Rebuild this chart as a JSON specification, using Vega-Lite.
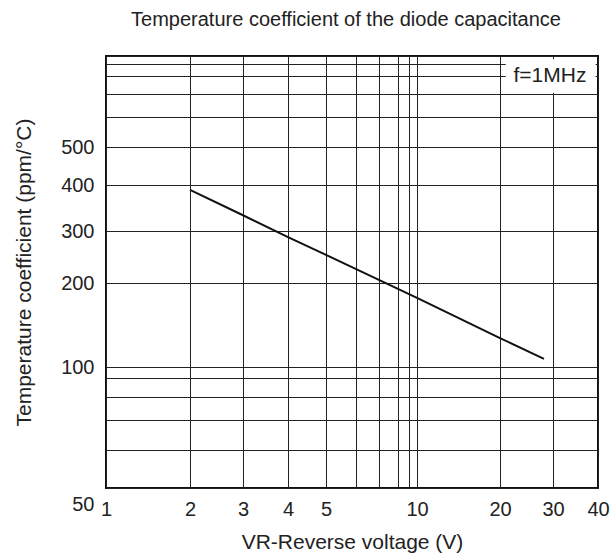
{
  "$schema": "https://vega.github.io/schema/vega-lite/v6.json",
  "width": 492,
  "height": 432,
  "autosize": "none",
  "padding": {"left": 106, "top": 56, "right": 17, "bottom": 70},
  "background": "white",
  "config": {"view": {"stroke": "#111", "strokeWidth": 2}, "font": "Liberation Sans"},
  "title": {"text": "Temperature coefficient of the diode capacitance", "fontSize": 20, "fontWeight": "normal", "color": "#222", "font": "Liberation Sans", "baseline": "alphabetic", "offset": 0, "dx": -6},
  "data": {"values": [
    {"V": 2, "tc": 388},
    {"V": 3, "tc": 331},
    {"V": 4, "tc": 286},
    {"V": 5, "tc": 249},
    {"V": 10, "tc": 177},
    {"V": 20, "tc": 127},
    {"V": 28, "tc": 107}
  ]},
  "layer": [
    {
      "mark": {"type": "line", "color": "#111", "strokeWidth": 2},
      "encoding": {
        "x": {"field": "V", "type": "quantitative",
          "scale": {"type": "log", "domain": [1,2,3,4,5,6,7,8,9,10,20,30,40], "range": [0,84,137,182,220,250,273,292,303,311,394,447,492], "nice": false},
          "axis": {"values": [1,2,3,4,5,6,7,8,9,10,20,30,40], "format": "d",
            "labelExpr": "datum.value >= 6 && datum.value <= 9 ? '' : datum.label",
            "title": "VR-Reverse voltage (V)", "grid": true, "gridColor": "#222", "gridWidth": 1, "gridOpacity": 1,
            "domain": false, "ticks": false, "labelFontSize": 20, "labelColor": "#222", "labelPadding": 11,
            "labelFlush": false, "labelOverlap": false, "labelFont": "Liberation Sans",
            "titleFontSize": 21, "titleFontWeight": "normal", "titleColor": "#222", "titlePadding": 12, "titleFont": "Liberation Sans"}},
        "y": {"field": "tc", "type": "quantitative",
          "scale": {"type": "log", "domain": [50,60,70,80,90,100,200,300,400,500,600,700,800,900,1000], "range": [432,394,364,341,322,311,227,175,129,91,61,38,20,8,0], "nice": false},
          "axis": {"values": [50,60,70,80,90,100,200,300,400,500,600,700,800,900,1000], "format": "d",
            "labelExpr": "indexof([50,100,200,300,400,500], datum.value) >= 0 ? datum.label : ''",
            "labelOffset": {"condition": {"test": "datum.value == 50", "value": 16}, "value": 0},
            "title": "Temperature coefficient (ppm/°C)", "grid": true, "gridColor": "#222", "gridWidth": 1, "gridOpacity": 1,
            "domain": false, "ticks": false, "labelFontSize": 20, "labelColor": "#222", "labelPadding": 12,
            "labelOverlap": false, "labelFont": "Liberation Sans",
            "titleFontSize": 21, "titleFontWeight": "normal", "titleColor": "#222", "titlePadding": 26, "titleFont": "Liberation Sans"}}
      }
    },
    {
      "data": {"values": [{}]},
      "mark": {"type": "rect", "fill": "white"},
      "encoding": {
        "x": {"datum": 20.9, "type": "quantitative", "scale": {"type": "log", "domain": [1,2,3,4,5,6,7,8,9,10,20,30,40], "range": [0,84,137,182,220,250,273,292,303,311,394,447,492], "nice": false}},
        "x2": {"datum": 39.4},
        "y": {"datum": 959, "type": "quantitative", "scale": {"type": "log", "domain": [50,60,70,80,90,100,200,300,400,500,600,700,800,900,1000], "range": [432,394,364,341,322,311,227,175,129,91,61,38,20,8,0], "nice": false}},
        "y2": {"datum": 706}
      }
    },
    {
      "data": {"values": [{}]},
      "mark": {"type": "text", "fontSize": 21, "font": "Liberation Sans", "color": "#222", "align": "center", "baseline": "middle"},
      "encoding": {
        "x": {"datum": 29.3, "type": "quantitative", "scale": {"type": "log", "domain": [1,2,3,4,5,6,7,8,9,10,20,30,40], "range": [0,84,137,182,220,250,273,292,303,311,394,447,492], "nice": false}},
        "y": {"datum": 800, "type": "quantitative", "scale": {"type": "log", "domain": [50,60,70,80,90,100,200,300,400,500,600,700,800,900,1000], "range": [432,394,364,341,322,311,227,175,129,91,61,38,20,8,0], "nice": false}},
        "text": {"value": "f=1MHz"}
      }
    }
  ]
}
